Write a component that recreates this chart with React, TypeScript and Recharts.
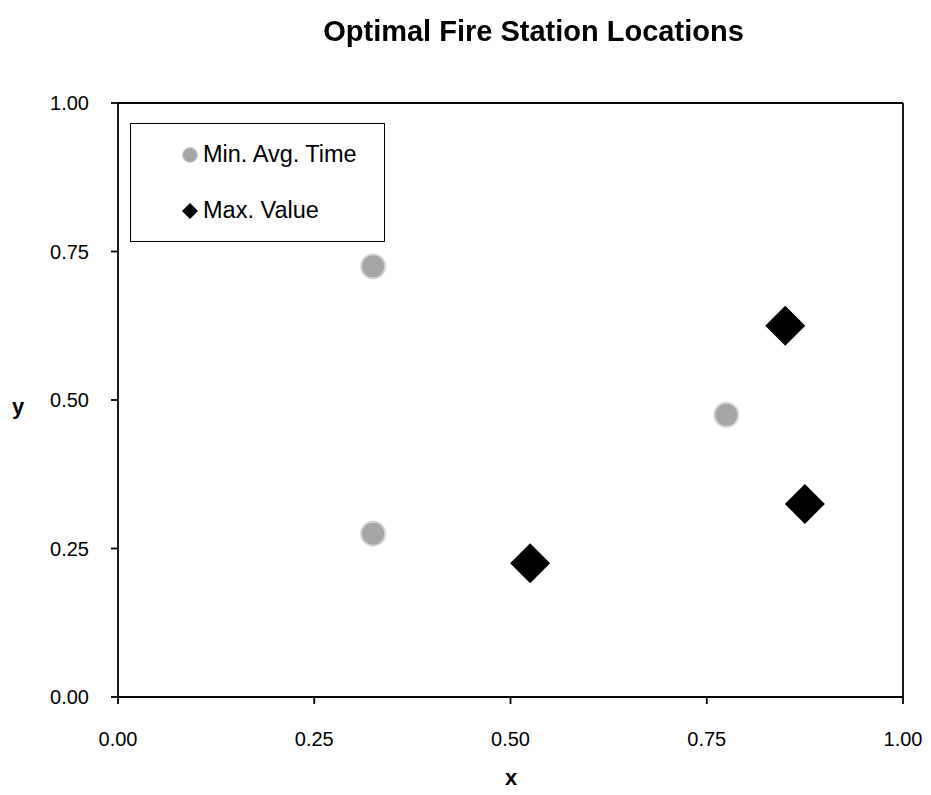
import { ScatterChart, Scatter, XAxis, YAxis, ReferenceLine } from 'recharts';

const minAvgTimeX = [0.325, 0.325, 0.775];
const minAvgTimeY = [0.725, 0.275, 0.475];
const maxValueX = [0.85, 0.875, 0.525];
const maxValueY = [0.625, 0.325, 0.225];
const axisTicks = [0, 0.25, 0.5, 0.75, 1];
const seriesNames = ['Min. Avg. Time', 'Max. Value'];

const minAvgTime = minAvgTimeX.map((x, i) => ({ x, y: minAvgTimeY[i] }));
const maxValue = maxValueX.map((x, i) => ({ x, y: maxValueY[i] }));

const FONT = '"Liberation Sans", Arial, sans-serif';
const GREY = '#a6a6a6';

const CircleMark = (props: any) => (
  <circle cx={props.cx} cy={props.cy} r={12} fill={GREY} stroke="#d4d4d4" strokeWidth={2} />
);

const DiamondMark = (props: any) => {
  const { cx, cy } = props;
  const h = 20;
  return <path d={`M${cx},${cy - h}L${cx + h},${cy}L${cx},${cy + h}L${cx - h},${cy}Z`} fill="#000" />;
};

// legend drawn as a plain box over the plot, like the original
const LegendBox = () => (
  <div
    style={{
      position: 'absolute',
      left: 130,
      top: 123,
      width: 253,
      height: 117,
      border: '1.5px solid #000',
      background: '#fff',
      fontFamily: FONT,
      fontSize: 23.5,
      color: '#000',
    }}
  >
    <div style={{ position: 'absolute', left: 50, top: 17, display: 'flex', alignItems: 'center' }}>
      <svg width={18} height={18}>
        <circle cx={9} cy={9} r={7.5} fill={GREY} stroke="#d4d4d4" strokeWidth={1} />
      </svg>
      <span style={{ marginLeft: 4 }}>{seriesNames[0]}</span>
    </div>
    <div style={{ position: 'absolute', left: 50, top: 73, display: 'flex', alignItems: 'center' }}>
      <svg width={18} height={18}>
        <path d="M9,1L17,9L9,17L1,9Z" fill="#000" />
      </svg>
      <span style={{ marginLeft: 4 }}>{seriesNames[1]}</span>
    </div>
  </div>
);

export default function App() {
  const tickStyle = { fontFamily: FONT, fontSize: 20, fill: '#000' };
  return (
    <div style={{ position: 'fixed', left: 0, top: 0, width: 931, height: 795, background: '#fff' }}>
      <ScatterChart width={931} height={795} margin={{ top: 103, right: 28, bottom: 0, left: 0 }}>
        <XAxis
          type="number"
          dataKey="x"
          domain={[0, 1]}
          ticks={axisTicks}
          tickFormatter={(v: number) => v.toFixed(2)}
          height={98}
          stroke="#000"
          strokeWidth={1.8}
          tickSize={7}
          tickMargin={28}
          tick={tickStyle}
          tickLine={{ stroke: '#000', strokeWidth: 1.8 }}
        />
        <YAxis
          type="number"
          dataKey="y"
          domain={[0, 1]}
          ticks={axisTicks}
          tickFormatter={(v: number) => v.toFixed(2)}
          width={118}
          stroke="#000"
          strokeWidth={1.8}
          tickSize={7}
          tickMargin={22}
          tick={tickStyle}
          tickLine={{ stroke: '#000', strokeWidth: 1.8 }}
        />
        <ReferenceLine y={1} stroke="#000" strokeWidth={1.8} />
        <ReferenceLine x={1} stroke="#000" strokeWidth={1.8} />
        <Scatter name={seriesNames[0]} data={minAvgTime} shape={CircleMark} isAnimationActive={false} />
        <Scatter name={seriesNames[1]} data={maxValue} shape={DiamondMark} isAnimationActive={false} />
      </ScatterChart>
      <div
        style={{
          position: 'absolute',
          left: 0,
          width: 1067,
          top: 15,
          textAlign: 'center',
          fontFamily: FONT,
          fontWeight: 'bold',
          fontSize: 29,
        }}
      >
        Optimal Fire Station Locations
      </div>
      <div style={{ position: 'absolute', left: 12, top: 394, fontFamily: FONT, fontWeight: 'bold', fontSize: 22 }}>
        y
      </div>
      <div style={{ position: 'absolute', left: 505, top: 765, fontFamily: FONT, fontWeight: 'bold', fontSize: 22 }}>
        x
      </div>
      <LegendBox />
    </div>
  );
}
